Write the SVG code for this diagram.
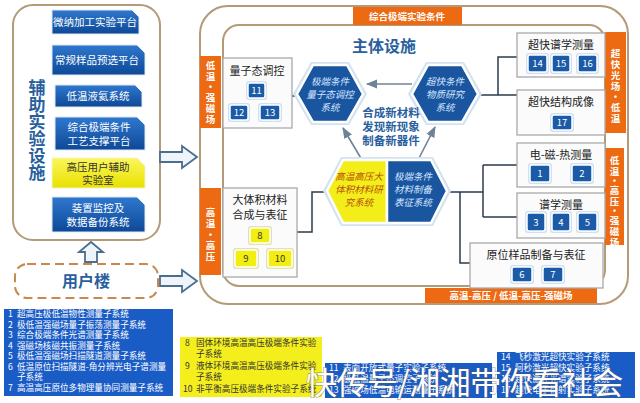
<svg xmlns="http://www.w3.org/2000/svg" width="640" height="403" viewBox="0 0 640 403">
<defs>
<linearGradient id="gb" x1="0" y1="0" x2="0" y2="1"><stop offset="0" stop-color="#2f78cf"/><stop offset="1" stop-color="#0d4896"/></linearGradient>
<linearGradient id="gy" x1="0" y1="0" x2="0" y2="1"><stop offset="0" stop-color="#fbf75a"/><stop offset="1" stop-color="#e8e000"/></linearGradient>
<marker id="ah" viewBox="0 0 10 10" refX="9" refY="5" markerWidth="7" markerHeight="7" orient="auto-start-reverse"><path d="M0,1 L10,5 L0,9 Z" fill="#6f8296"/></marker>
</defs>
<style>
text{font-family:"Noto Sans CJK SC","Liberation Sans",sans-serif;}
.panel{fill:#fff;stroke:#b39a78;stroke-width:2;}
.btn{fill:url(#gb);stroke:#dfe9f5;stroke-width:1;}
.btny{fill:url(#gy);stroke:#f3f3c8;stroke-width:1;}
.bt{fill:#fff;font-size:10.5px;text-anchor:middle;}
.bty{fill:#333;font-size:10.5px;text-anchor:middle;}
.org{fill:#ee6a12;}
.ot{fill:#fff;font-size:9.5px;text-anchor:middle;font-weight:bold;}
.box{fill:#fbfbfb;stroke:#a9a9a9;stroke-width:1.3;}
.bxt{fill:#222;font-size:11px;text-anchor:middle;}
.bdg{fill:#1a5aa6;stroke:#fff;stroke-width:1.5;}
.bdgo{fill:#cfe1f0;}
.bdt{fill:#fff;font-size:9.5px;text-anchor:middle;}
.ybdg{fill:#f2ee10;stroke:#fff;stroke-width:1.5;}
.ybdgo{fill:#e2e2b0;}
.ybdt{fill:#333;font-size:9.5px;text-anchor:middle;}
.hex{fill:#1a55a0;stroke:#fff;stroke-width:2.5;}
.hexo{fill:#d3e2ef;}
.ht{fill:#d4e6ff;font-size:9.5px;text-anchor:middle;font-style:italic;}
.hty{fill:#b8500e;font-size:9.5px;text-anchor:middle;font-style:italic;}
.con{fill:none;stroke:#2b3b4c;stroke-width:1.5;}
.arr{fill:none;stroke:#6f8296;stroke-width:1.6;}
.hol{fill:#eef4fa;stroke:#4a6e90;stroke-width:1.8;}
.lg{font-size:8.6px;fill:#fff;}
.lgy{font-size:8.6px;fill:#333;}
</style>
<rect width="640" height="403" fill="#fff"/>

<!-- left auxiliary panel -->
<g id="aux-panel">
<rect class="panel" x="13" y="5" width="147" height="235" rx="20"/>
<text x="37" fill="#2a5f9e" font-size="17" font-weight="bold" text-anchor="middle"><tspan x="37" y="94">辅</tspan><tspan x="37" y="111">助</tspan><tspan x="37" y="128">实</tspan><tspan x="37" y="145">验</tspan><tspan x="37" y="162">设</tspan><tspan x="37" y="179">施</tspan></text>
</g>
<g id="btn1"><path class="btn" d="M52,10 H132 L139,17 V34 H52 Z"/><text class="bt" x="95" y="26">微纳加工实验平台</text></g>
<g id="btn2"><path class="btn" d="M52,45 H137 L145,53 V75 H52 Z"/><text class="bt" x="97" y="64">常规样品预选平台</text></g>
<g id="btn3"><path class="btn" d="M55,85 H135 L142,92 V107 H55 Z"/><text class="bt" x="98" y="100">低温液氦系统</text></g>
<g id="btn4"><path class="btn" d="M55,117 H137 L145,125 V150 H55 Z"/><text class="bt" x="99" y="131">综合极端条件</text><text class="bt" x="99" y="145">工艺支撑平台</text></g>
<g id="btn5"><path class="btny" d="M52,158 H137 L145,166 V188 H52 Z"/><text class="bty" x="98" y="171">高压用户辅助</text><text class="bty" x="98" y="184">实验室</text></g>
<g id="btn6"><path class="btn" d="M52,197 H137 L145,205 V232 H52 Z"/><text class="bt" x="98" y="212">装置监控及</text><text class="bt" x="98" y="226">数据备份系统</text></g>

<g id="user-building">
<rect x="15" y="264" width="143" height="34" rx="12" fill="#fff" stroke="#c8894f" stroke-width="2" stroke-dasharray="9,5"/>
<text x="86" y="287" fill="#2a5f9e" font-size="16" font-weight="bold" text-anchor="middle">用户楼</text>
</g>

<!-- main panel -->
<g id="main-panel">
<rect class="panel" x="200" y="6" width="428" height="298" rx="28"/>
<rect class="panel" x="223" y="25" width="382" height="261" rx="16"/>
<text x="384" y="52" fill="#2a5f9e" font-size="16" font-weight="bold" text-anchor="middle">主体设施</text>
</g>

<g id="labels">
<rect class="org" x="353" y="7" width="109" height="18"/>
<text class="ot" x="407" y="20">综合极端实验条件</text>
<rect class="org" x="200" y="56" width="21" height="72"/>
<text class="ot"><tspan x="210.5" y="69">低</tspan><tspan x="210.5" y="80">温</tspan><tspan x="210.5" y="90">·</tspan><tspan x="210.5" y="101">强</tspan><tspan x="210.5" y="112">磁</tspan><tspan x="210.5" y="123">场</tspan></text>
<rect class="org" x="200" y="188" width="21" height="87"/>
<text class="ot"><tspan x="210.5" y="216">高</tspan><tspan x="210.5" y="227">温</tspan><tspan x="210.5" y="238">·</tspan><tspan x="210.5" y="249">高</tspan><tspan x="210.5" y="260">压</tspan></text>
<rect class="org" x="605" y="32" width="21" height="101"/>
<text class="ot"><tspan x="615.5" y="57">超</tspan><tspan x="615.5" y="68">快</tspan><tspan x="615.5" y="79">光</tspan><tspan x="615.5" y="90">场</tspan><tspan x="615.5" y="100">·</tspan><tspan x="615.5" y="111">低</tspan><tspan x="615.5" y="122">温</tspan></text>
<rect class="org" x="605" y="148" width="19" height="97"/>
<text class="ot"><tspan x="614.5" y="164">低</tspan><tspan x="614.5" y="175">温</tspan><tspan x="614.5" y="184">·</tspan><tspan x="614.5" y="194">高</tspan><tspan x="614.5" y="205">压</tspan><tspan x="614.5" y="214">·</tspan><tspan x="614.5" y="224">强</tspan><tspan x="614.5" y="235">磁</tspan><tspan x="614.5" y="246">场</tspan></text>
<rect class="org" x="425" y="288" width="172" height="15"/>
<text class="ot" x="511" y="299">高温-高压 / 低温-高压-强磁场</text>
</g>

<!-- connectors -->
<g id="connectors">
<polygon class="hol" points="85,262 85,252 79,252 91,242 103,252 97,252 97,262"/>
<polygon class="hol" points="160,152 182,152 182,146 197,157 182,168 182,162 160,162"/>
<polygon class="hol" points="160,276 182,276 182,270 197,281 182,292 182,286 160,286"/>
<path class="con" d="M292,96 H300"/>
<path class="con" d="M297,232 H312 V192 H327"/>
<path class="con" d="M478,95 H517 M498,95 V57 H517"/>
<path class="con" d="M447,192 H483 M483,165 V217 M483,165 H517 M483,217 H517 M460,192 V263 H470"/>
<path class="arr" d="M412,84 H367" marker-end="url(#ah)"/>
<path class="arr" d="M362,160 L343,128" marker-end="url(#ah)"/>
<path class="arr" d="M418,160 L435,127" marker-end="url(#ah)"/>
</g>

<!-- hexagons -->
<g id="hex-quantum">
<polygon class="hexo" points="293,94 311,62 349,62 367,94 349,125 311,125"/>
<polygon class="hex" points="297,94 313,65 347,65 363,94 347,122 313,122"/>
<text class="ht" x="330" y="85">极端条件</text><text class="ht" x="330" y="98">量子态调控</text><text class="ht" x="330" y="111">系统</text>
</g>
<g id="hex-ultrafast">
<polygon class="hexo" points="408,94 426,62 464,62 482,94 464,125 426,125"/>
<polygon class="hex" points="412,94 428,65 462,65 478,94 462,122 428,122"/>
<text class="ht" x="445" y="85">超快条件</text><text class="ht" x="445" y="98">物质研究</text><text class="ht" x="445" y="111">系统</text>
</g>
<g id="center-text">
<text x="391" y="117" fill="#2a5f9e" font-size="11.5" font-weight="bold" text-anchor="middle">合成新材料</text>
<text x="391" y="131" fill="#2a5f9e" font-size="11.5" font-weight="bold" text-anchor="middle">发现新现象</text>
<text x="391" y="145" fill="#2a5f9e" font-size="11.5" font-weight="bold" text-anchor="middle">制备新器件</text>
</g>
<g id="hex-bulk">
<polygon class="hexo" points="323,191 341,157 433,157 451,191 433,226 341,226"/>
<polygon points="327,191 343,160 387,160 387,223 343,223" fill="#f3ee1a" stroke="#fff" stroke-width="2.5"/>
<text class="hty" x="359" y="180">高温高压大</text><text class="hty" x="359" y="193">体积材料研</text><text class="hty" x="359" y="206">究系统</text>
</g>
<g id="hex-prep">
<polygon class="hex" points="387,160 431,160 447,191 431,223 387,223"/>
<text class="ht" x="413" y="180">极端条件</text><text class="ht" x="413" y="193">材料制备</text><text class="ht" x="413" y="206">表征系统</text>
</g>

<!-- module boxes -->
<g id="box-quantum">
<rect class="box" x="223" y="58" width="69" height="70"/>
<text class="bxt" x="257" y="75">量子态调控</text>
<rect class="bdgo" x="246" y="81" width="21" height="19" rx="3"/><rect class="bdg" x="248" y="83" width="17" height="15" rx="2"/><text class="bdt" x="256.5" y="94">11</text>
<rect class="bdgo" x="228" y="103" width="22" height="19" rx="3"/><rect class="bdg" x="230" y="105" width="18" height="15" rx="2"/><text class="bdt" x="239" y="116">12</text>
<rect class="bdgo" x="258" y="103" width="24" height="19" rx="3"/><rect class="bdg" x="260" y="105" width="20" height="15" rx="2"/><text class="bdt" x="270" y="116">13</text>
</g>
<g id="box-bulk">
<rect class="box" x="223" y="188" width="74" height="89"/>
<text class="bxt" x="260" y="204">大体积材料</text>
<text class="bxt" x="260" y="219">合成与表征</text>
<rect class="ybdgo" x="248" y="226" width="24" height="19" rx="3"/><rect class="ybdg" x="250" y="228" width="20" height="15" rx="2"/><text class="ybdt" x="260" y="239">8</text>
<rect class="ybdgo" x="233" y="248" width="26" height="21" rx="3"/><rect class="ybdg" x="235" y="250" width="22" height="17" rx="2"/><text class="ybdt" x="246" y="262">9</text>
<rect class="ybdgo" x="266" y="248" width="28" height="21" rx="3"/><rect class="ybdg" x="268" y="250" width="24" height="17" rx="2"/><text class="ybdt" x="280" y="262">10</text>
</g>
<g id="box-ufspec">
<rect class="box" x="517" y="33" width="88" height="44"/>
<text class="bxt" x="561" y="49">超快谱学测量</text>
<rect class="bdgo" x="526" y="53" width="23" height="21" rx="3"/><rect class="bdg" x="528" y="55" width="19" height="17" rx="2"/><text class="bdt" x="537.5" y="67">14</text>
<rect class="bdgo" x="550" y="53" width="22" height="21" rx="3"/><rect class="bdg" x="552" y="55" width="18" height="17" rx="2"/><text class="bdt" x="561" y="67">15</text>
<rect class="bdgo" x="576" y="53" width="23" height="21" rx="3"/><rect class="bdg" x="578" y="55" width="19" height="17" rx="2"/><text class="bdt" x="587.5" y="67">16</text>
</g>
<g id="box-ufimg">
<rect class="box" x="517" y="90" width="88" height="45"/>
<text class="bxt" x="561" y="106">超快结构成像</text>
<rect class="bdgo" x="550" y="113" width="24" height="19" rx="3"/><rect class="bdg" x="552" y="115" width="20" height="15" rx="2"/><text class="bdt" x="562" y="126">17</text>
</g>
<g id="box-emt">
<rect class="box" x="517" y="143" width="88" height="44"/>
<text class="bxt" x="561" y="159">电-磁-热测量</text>
<rect class="bdgo" x="528" y="163" width="24" height="21" rx="3"/><rect class="bdg" x="530" y="165" width="20" height="17" rx="2"/><text class="bdt" x="540" y="177">1</text>
<rect class="bdgo" x="570" y="163" width="24" height="21" rx="3"/><rect class="bdg" x="572" y="165" width="20" height="17" rx="2"/><text class="bdt" x="582" y="177">2</text>
</g>
<g id="box-spec">
<rect class="box" x="517" y="193" width="88" height="45"/>
<text class="bxt" x="561" y="209">谱学测量</text>
<rect class="bdgo" x="525" y="211" width="22" height="22" rx="3"/><rect class="bdg" x="527" y="213" width="18" height="18" rx="2"/><text class="bdt" x="536" y="226">3</text>
<rect class="bdgo" x="550" y="211" width="22" height="22" rx="3"/><rect class="bdg" x="552" y="213" width="18" height="18" rx="2"/><text class="bdt" x="561" y="226">4</text>
<rect class="bdgo" x="576" y="211" width="23" height="22" rx="3"/><rect class="bdg" x="578" y="213" width="19" height="18" rx="2"/><text class="bdt" x="587.5" y="226">5</text>
</g>
<g id="box-insitu">
<rect class="box" x="470" y="243" width="133" height="45"/>
<text class="bxt" x="536" y="259">原位样品制备与表征</text>
<rect class="bdgo" x="510" y="265" width="24" height="19" rx="3"/><rect class="bdg" x="512" y="267" width="20" height="15" rx="2"/><text class="bdt" x="522" y="278">6</text>
<rect class="bdgo" x="541" y="265" width="24" height="19" rx="3"/><rect class="bdg" x="543" y="267" width="20" height="15" rx="2"/><text class="bdt" x="553" y="278">7</text>
</g>

<!-- legends -->
<g id="legend-1-7">
<rect x="4" y="309" width="169" height="87" fill="#1a5cc6"/>
<text class="lg" x="8" y="317">1<tspan x="17">超高压极低温物性测量子系统</tspan></text>
<text class="lg" x="8" y="328">2<tspan x="17">极低温强磁场量子振荡测量子系统</tspan></text>
<text class="lg" x="8" y="338">3<tspan x="17">综合极端条件光谱测量子系统</tspan></text>
<text class="lg" x="8" y="349">4<tspan x="17">强磁场核磁共振测量子系统</tspan></text>
<text class="lg" x="8" y="359">5<tspan x="17">极低温强磁场扫描隧道测量子系统</tspan></text>
<text class="lg" x="8" y="370">6<tspan x="17">低温原位扫描隧道-角分辨光电子谱测量</tspan></text>
<text class="lg" x="17" y="380">子系统</text>
<text class="lg" x="8" y="391">7<tspan x="17">高温高压原位多物理量协同测量子系统</tspan></text>
</g>
<g id="legend-8-10">
<rect x="180" y="337" width="142" height="60" fill="#f4ef1c"/>
<text class="lgy" x="185" y="346">8<tspan x="196">固体环境高温高压极端条件实验</tspan></text>
<text class="lgy" x="196" y="357">子系统</text>
<text class="lgy" x="185" y="369">9<tspan x="196">液体环境高温高压极端条件实验</tspan></text>
<text class="lgy" x="196" y="380">子系统</text>
<text class="lgy" x="183" y="392">10<tspan x="196">非平衡高压极端条件实验子系统</tspan></text>
</g>
<g id="legend-11-13">
<rect x="325" y="363" width="167" height="35" fill="#1a5cc6"/>
<text class="lg" x="329" y="371">11<tspan x="343">表面开放式量子实验子系统</tspan></text>
<text class="lg" x="329" y="382">12<tspan x="343">极低温量子态调控子系统</tspan></text>
<text class="lg" x="329" y="393">13<tspan x="343">强磁场低温电输运测量子系统</tspan></text>
</g>
<g id="legend-14-17">
<rect x="497" y="352" width="138" height="46" fill="#1a5cc6"/>
<text class="lg" x="501" y="360">14<tspan x="515">飞秒激光超快实验子系统</tspan></text>
<text class="lg" x="501" y="371">15<tspan x="515">阿秒激光超快实验子系统</tspan></text>
<text class="lg" x="501" y="382">16<tspan x="515">超快激光光谱实验子系统</tspan></text>
<text class="lg" x="501" y="393">17<tspan x="515">超快电子衍射实验子系统</tspan></text>
</g>

<g id="watermark">
<text x="306" y="394" font-size="31" fill="#fff" stroke="#555" stroke-opacity="0.45" stroke-width="1.6" paint-order="stroke" letter-spacing="-0.5">快传号/湘湘带你看社会</text>
</g>
</svg>
